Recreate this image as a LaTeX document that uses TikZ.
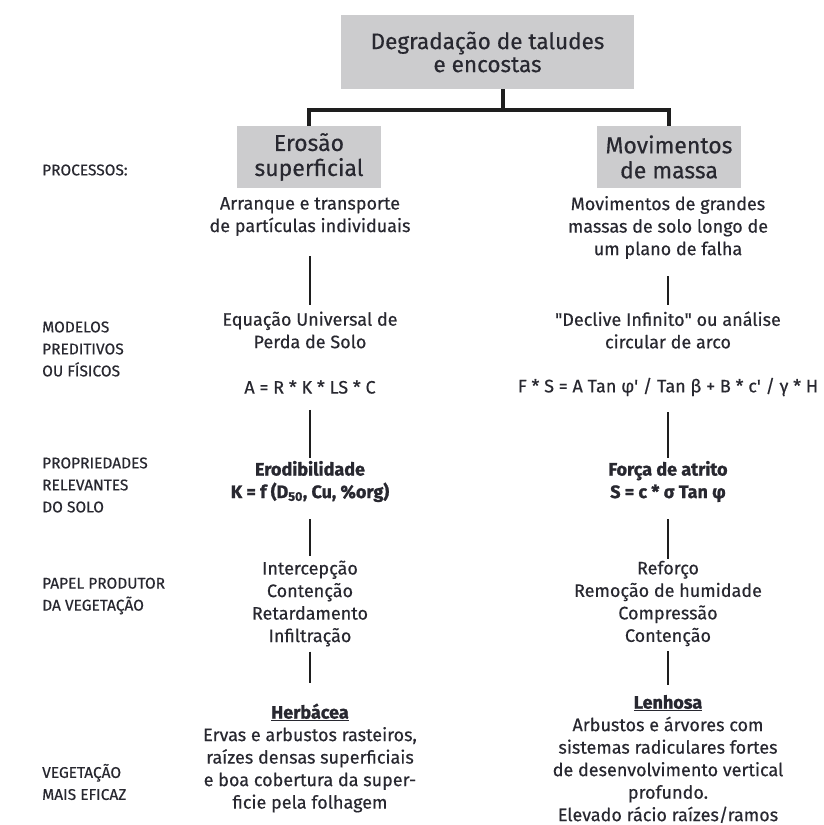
\documentclass[tikz,border=0pt]{standalone}
\usepackage{fontspec}
\setmainfont{Fira Sans}[UprightFeatures={FakeBold=0.4}, BoldFeatures={FakeBold=1.2}]
\newfontfamily\plainq{Fira Sans}[FakeBold=0.4]
\usetikzlibrary{positioning}
\definecolor{txt}{RGB}{40,40,48}
\definecolor{boxfill}{RGB}{204,204,206}
\definecolor{linec}{RGB}{30,30,30}
\tikzset{
  hbox/.style={fill=boxfill, draw=none, align=center, text=txt, inner sep=0pt},
  coltext/.style={align=center, text=txt, inner sep=0pt, font=\fontsize{18}{22.5}\selectfont},
  rowlabel/.style={anchor=west, align=left, text=txt, inner sep=0pt, font=\fontsize{15.5}{22}\selectfont},
  bar/.style={draw=linec, line width=4.5pt, line join=miter},
  link/.style={draw=linec, line width=1.1pt},
}
\begin{document}
\begin{tikzpicture}[x=1pt,y=-1pt]
\useasboundingbox[fill=white] (0,0) rectangle (823,825);
% boxes
\node[hbox, minimum width=293pt, minimum height=74pt, font=\fontsize{22.5}{23}\selectfont] (top) at (487.5,52) {Degradação de taludes\\e encostas};
\node[hbox, minimum width=144pt, minimum height=62pt, font=\fontsize{23}{25}\selectfont] (ero) at (309,157) {Erosão\\superficial};
\node[hbox, minimum width=144pt, minimum height=62pt, font=\fontsize{23}{25}\selectfont] (mov) at (669,157) {Movimentos\\de massa};
% tree connector
\coordinate (j) at (503,110);
\draw[bar] (j |- top.south) -- (j);
\draw[bar] (ero.north) |- (j) -| (mov.north);
% row labels
\node[rowlabel] (l1) at (42,170) {PROCESSOS:};
\node[rowlabel] (l2) at (42,349) {MODELOS\\PREDITIVOS\\OU FÍSICOS};
\node[rowlabel] (l3) at (42,485) {PROPRIEDADES\\RELEVANTES\\DO SOLO};
\node[rowlabel] (l4) at (42,596) {PAPEL PRODUTOR\\DA VEGETAÇÃO};
\node[rowlabel] (l5) at (42,782) {VEGETAÇÃO\\MAIS EFICAZ};
% left column
\node[coltext] (edesc) at (310,216.5) {Arranque e transporte\\de partículas individuais};
\node[coltext] (emodel) at (310,330) {Equação Universal de\\Perda de Solo};
\node[coltext] (eeq) at (310,387) {A = R * K * LS * C};
\node[coltext] (eprop) at (310,481.5) {\textbf{Erodibilidade}\\\textbf{K = f (D\textsubscript{50}, Cu, \%org)}};
\node[coltext] (erole) at (310,603.5) {Intercepção\\Contenção\\Retardamento\\Infiltração};
\node[coltext] (eveg) at (310,758) {\textbf{\underline{Herbácea}}\\Ervas e arbustos rasteiros,\\raízes densas superficiais\\e boa cobertura da super-\\ficie pela folhagem};
% right column
\node[coltext] (mdesc) at (668,227.5) {Movimentos de grandes\\massas de solo longo de\\um plano de falha};
\node[coltext] (mmodel) at (668,330) {{\plainq "}Declive Infinito{\plainq "} ou análise\\circular de arco};
\node[coltext] (meq) at (668,387) {\plainq F * S = A Tan φ' / Tan β + B * c' / γ * H};
\node[coltext] (mprop) at (668,481.5) {\textbf{Força de atrito}\\\textbf{S = c * σ Tan φ}};
\node[coltext] (mrole) at (668,603.5) {Reforço\\Remoção de humidade\\Compressão\\Contenção};
\node[coltext] (mveg) at (668,759) {\textbf{\underline{Lenhosa}}\\Arbustos e árvores com\\sistemas radiculares fortes\\de desenvolvimento vertical\\profundo.\\Elevado rácio raízes/ramos};
% links
\draw[link, shorten <=20pt, shorten >=6pt] (edesc.south) -- (emodel.north);
\draw[link, shorten <=16pt, shorten >=3pt] (eeq.south) -- (eprop.north);
\draw[link, shorten <=17pt, shorten >=4pt] (eprop.south) -- (erole.north);
\draw[link, shorten <=5pt, shorten >=20pt] (erole.south) -- (eveg.north);
\draw[link, shorten <=17pt, shorten >=6pt] (mdesc.south) -- (mmodel.north);
\draw[link, shorten <=16pt, shorten >=3pt] (meq.south) -- (mprop.north);
\draw[link, shorten <=17pt, shorten >=2pt] (mprop.south) -- (mrole.north);
\draw[link, shorten <=5pt, shorten >=10pt] (mrole.south) -- (mveg.north);
\end{tikzpicture}
\end{document}
